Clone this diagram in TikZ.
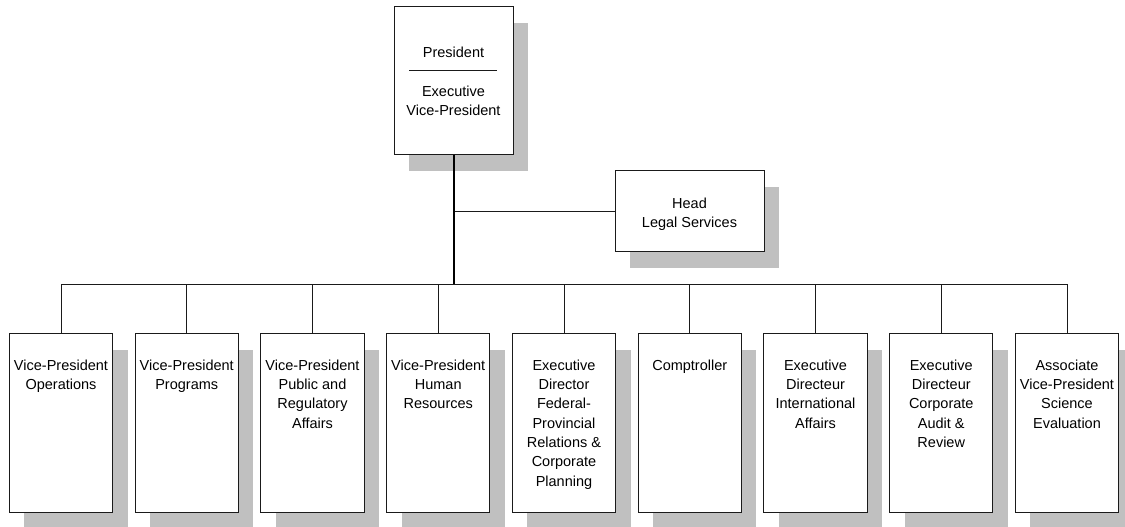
\documentclass[tikz,border=0pt]{standalone}
\usepackage{fontspec}
\setmainfont{Liberation Sans}
\usetikzlibrary{shadows}
\definecolor{shadecol}{HTML}{C0C0C0}
\definecolor{linecol}{HTML}{1A1A1A}
\tikzset{
  orgbox/.style={draw=linecol, line width=1pt, fill=white, rectangle, inner sep=0pt,
    drop shadow={shadow xshift=15pt, shadow yshift=-16.5pt, opacity=1, fill=shadecol}},
  lowbox/.style={orgbox, minimum width=103.4pt, minimum height=179pt},
  txt/.style={inner sep=0pt, align=center, anchor=north, font=\fontsize{14.5}{19.3}\selectfont},
  link/.style={draw=linecol, line width=0.9pt},
  trunk/.style={draw=black, line width=2pt}
}
\begin{document}
\begin{tikzpicture}[x=1pt,y=-1pt]
\useasboundingbox (0,0) rectangle (1125,527);
% top box
\node[orgbox, minimum width=119pt, minimum height=147.3pt] (pres) at (453.5,80.4) {};
\node[txt] (prest) at (453.5,46.8) {President};
\coordinate (divl) at (409,70.7);
\coordinate (divr) at (497,70.7);
\draw[link] (divl) -- (divr);
\node[txt] (evpt) at (453.5,85.8) {Executive\\Vice-President};
% legal
\node[orgbox, minimum width=149pt, minimum height=81pt] (legal) at (689.5,211.2) {};
\node[txt] (legalt) at (689.5,197.5) {Head\\Legal Services};
% bottom boxes
\foreach \i/\t in {1/{Vice-President\\Operations},
                   2/{Vice-President\\Programs},
                   3/{Vice-President\\Public and\\Regulatory\\Affairs},
                   4/{Vice-President\\Human\\Resources},
                   5/{Executive\\Director\\Federal-\\Provincial\\Relations \&\\Corporate\\Planning},
                   6/{Comptroller},
                   7/{Executive\\Directeur\\International\\Affairs},
                   8/{Executive\\Directeur\\Corporate\\Audit \&\\Review},
                   9/{Associate\\Vice-President\\Science\\Evaluation}}{
  \pgfmathsetmacro{\cx}{61+125.75*(\i-1)}
  \node[lowbox] (b\i) at (\cx,422.8) {};
  \node[txt] (t\i) at (\cx,359.6) {\t};
}
% connectors
\coordinate (busy) at (0,284.3);
\draw[link] (b1.north |- busy) -- (b9.north |- busy);
\foreach \i in {1,...,9}{
  \draw[link] (b\i.north) -- (b\i.north |- busy);
}
\draw[link] (legal.west) -- (legal.west -| pres.south);
\draw[trunk] (pres.south) -- (pres.south |- busy);
\end{tikzpicture}
\end{document}
